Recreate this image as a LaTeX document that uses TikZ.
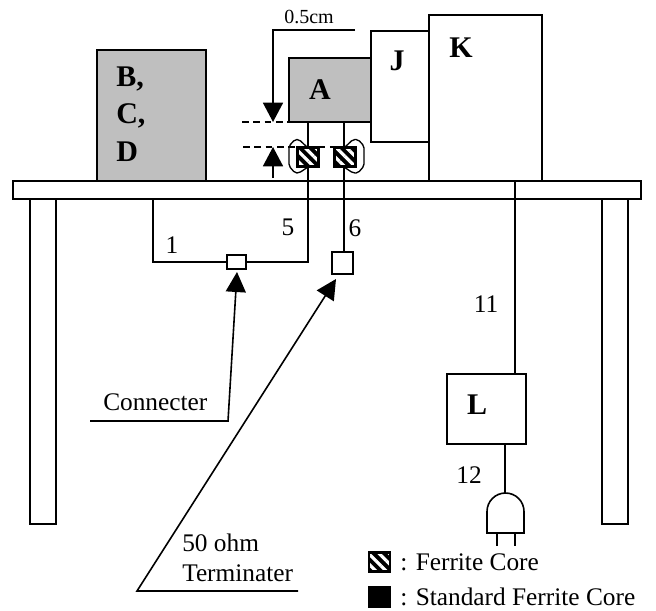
\documentclass[tikz,border=0pt]{standalone}
\usepackage{fontspec}
\setmainfont{Liberation Serif}
\usetikzlibrary{
  arrows.meta,
  patterns.meta
}
\tikzset{
  box/.style n args={3}{draw=black,line width=1.2pt,fill=#3,inner sep=0pt,outer sep=0pt,
    minimum width=#1*0.75pt,minimum height=#2*0.75pt},
  ferrite/.style={box={21}{19}{black},line width=1.8pt,
    postaction={pattern={Lines[angle=-45,distance=5.5pt,line width=2.4pt]},pattern color=white},
    postaction={draw=black,line width=1.8pt}},
  stdcore/.style={box={22}{20}{black}},
  wire/.style={line width=1.3pt},
  lbl/.style={inner sep=0pt,font=\fontsize{19}{21}\selectfont},
  big/.style={inner sep=0pt,font=\fontsize{22.5}{25}\selectfont\bfseries},
  leader/.style={line width=1.2pt,-{Triangle[length=15pt,width=15pt]}},
  clamp/.style={line width=1pt,rounded corners=1.5pt},
  dim/.style={line width=1.1pt,dashed,dash pattern=on 5pt off 3.5pt}
}
\begin{document}
\begin{tikzpicture}[x=0.75pt,y=-0.75pt]
\useasboundingbox (0,0) rectangle (656,610);
\node[box={26}{325}{white}] (legL) at (43,361.5) {};
\node[box={26}{325}{white}] (legR) at (615,361.5) {};
\node[box={628}{18}{white}] (table) at (327,190) {};
\node[box={109}{131}{gray!50}] (bcd) at (151.5,115.5) {};
\node[box={58}{111}{white}] (J) at (400,86.5) {};
\node[box={113}{166}{white}] (K) at (485.5,98) {};
\node[box={82}{64}{gray!50}] (A) at (330,90) {};
\node[box={79}{70}{white}] (L) at (486.5,409) {};
\node[box={19}{14}{white}] (conn) at (236.5,262) {};
\node[box={21}{22}{white}] (term) at (342.5,263) {};

\coordinate (c5) at (308,122);
\coordinate (c6) at (344,122);
\coordinate (c1) at (153,199);
\coordinate (c11) at (515,181);
\coordinate (plug) at (505,493);
\draw[wire] (c5) -- (c5 |- conn.east) -- (conn.east);
\draw[wire] (c1) -- (c1 |- conn.west) -- (conn.west);
\draw[wire] (c6) -- (term.north -| c6);
\draw[wire] (c11) -- (c11 |- L.north);
\draw[wire] (plug |- L.south) -- (plug);

\node[ferrite] (fcL) at (308,157) {};
\node[ferrite] (fcR) at (345,157) {};
\draw[clamp] (308,148) -- (299,139.5) -- (295,139.5) -- (289,146) -- (289,166) -- (295,173) -- (299,173) -- (308,167);
\draw[clamp] (344,148) -- (353,139.5) -- (358,139.5) -- (364,146) -- (364,166) -- (358,173) -- (353,173) -- (344,167);

\coordinate (dimA) at (355,30);
\coordinate (dimB) at (273,30);
\coordinate (dimC) at (273,122);
\coordinate (dimD) at (273,147);
\coordinate (dimE) at (273,178);
\draw[wire,-{Triangle[length=14.5pt,width=15pt]}] (dimA) -- (dimB) -- (dimC);
\draw[wire,-{Triangle[length=14.5pt,width=15pt]}] (dimE) -- (dimD);
\draw[dim] (242,122) -- (A.south west);
\draw[dim] (243,147) -- (fcL.north west |- dimD);
\draw[dim] (fcL.east |- dimD) -- (fcR.west |- dimD);

\draw[line width=1.2pt] (487,533) -- (487,511.5) arc[start angle=180,end angle=360,radius=18.5] -- (524,533) -- cycle;
\draw[wire] (497,533) -- (497,546);
\draw[wire] (515,533) -- (515,546);

\coordinate (leadA) at (90,421);
\coordinate (leadB) at (228,421);
\coordinate (leadC) at (298,591);
\coordinate (leadD) at (137,591);
\draw[leader] (leadA) -- (leadB) -- (237,272);
\draw[leader] (leadC) -- (leadD) -- (336,279);

\node[big] (lblA) at (320,90) {A};
\node[big] (lblJ) at (397,61) {J};
\node[big] (lblK) at (461,48) {K};
\node[big] (lblL) at (477,405) {L};
\node[big,anchor=west] (lblB) at (116,79) {B,};
\node[big,anchor=west] (lblC) at (116,116) {C,};
\node[big,anchor=west] (lblD) at (116,152) {D};
\node[lbl,font=\fontsize{15}{17}\selectfont] (dist) at (309,17) {0.5cm};
\node[lbl] (n1) at (172,245) {1};
\node[lbl] (n5) at (288,227) {5};
\node[lbl] (n6) at (355,228) {6};
\node[lbl] (n11) at (486,304) {11};
\node[lbl] (n12) at (469,475) {12};
\node[lbl,anchor=west] (tConn) at (103,402) {Connecter};
\node[lbl,anchor=west] (tOhm) at (182,543) {50 ohm};
\node[lbl,anchor=west] (tTerm) at (182,573) {Terminater};

\node[ferrite] (keyF) at (379.5,562) {};
\node[stdcore] (keyS) at (379.5,597) {};
\node[lbl,anchor=west] (tF) at (400,562) {: Ferrite Core};
\node[lbl,anchor=west] (tS) at (400,597) {: Standard Ferrite Core};
\end{tikzpicture}
\end{document}
